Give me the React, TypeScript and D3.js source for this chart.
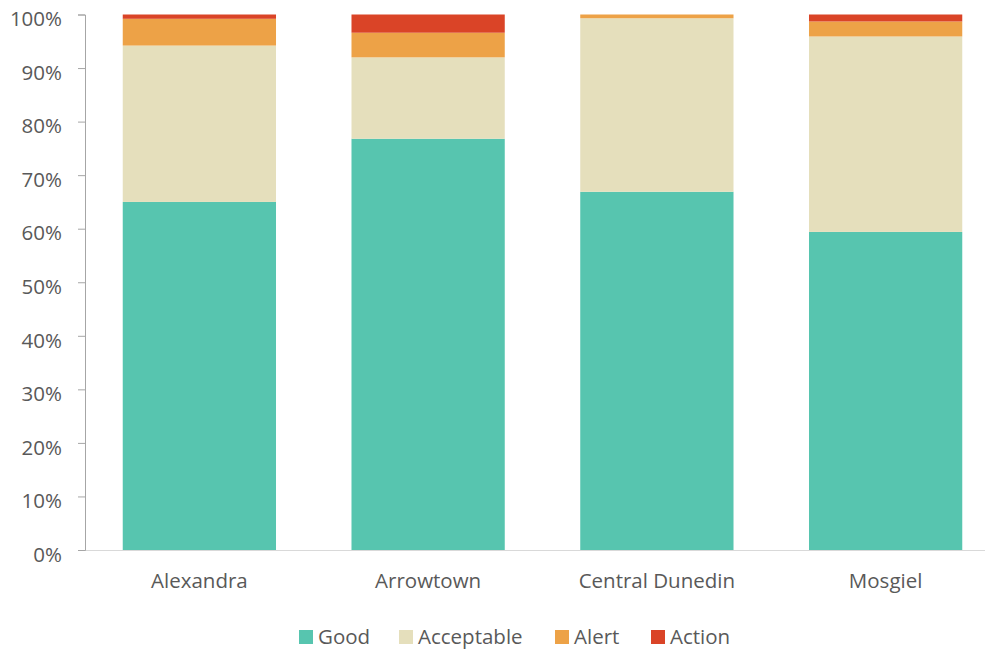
import React, { useEffect, useRef } from 'react';
import * as d3 from 'd3';

const sites = ['Alexandra', 'Arrowtown', 'Central Dunedin', 'Mosgiel'];
const good = [65.0, 76.8, 66.9, 59.4];
const acceptable = [29.2, 15.2, 32.4, 36.5];
const alert = [5.0, 4.6, 0.7, 2.8];
const action = [0.8, 3.4, 0, 1.3];
const seriesNames = ['Good', 'Acceptable', 'Alert', 'Action'];
const colors = ['#57c5af', '#e5dfbc', '#eda247', '#da4427'];
const yTicks = [0, 10, 20, 30, 40, 50, 60, 70, 80, 90, 100];

const W = 987, H = 649;
const font = '"Open Sans", "Liberation Sans", sans-serif';
const fs = '20.5px';

const App = () => {
  const ref = useRef<SVGGElement>(null);

  useEffect(() => {
    const g = d3.select(ref.current);
    g.selectAll('*').remove();

    const rows = sites.map((s, i) => ({
      site: s, Good: good[i], Acceptable: acceptable[i], Alert: alert[i], Action: action[i],
    }));
    const stack = d3.stack<any>().keys(seriesNames)(rows);

    const x = d3.scaleBand().domain(sites).range([85, 1000]).paddingInner(0.33).paddingOuter(0.165);
    const y = d3.scaleLinear().domain([0, 100]).range([550, 14.5]);

    // bars
    g.selectAll('g.series').data(stack).enter().append('g')
      .attr('fill', (d, i) => colors[i])
      .selectAll('rect').data(d => d).enter().append('rect')
      .attr('x', d => x(d.data.site)!)
      .attr('width', x.bandwidth())
      .attr('y', d => y(d[1]))
      .attr('height', d => y(d[0]) - y(d[1]));

    // baseline
    g.append('line').attr('x1', 85).attr('x2', 985).attr('y1', y(0) + 0.5).attr('y2', y(0) + 0.5)
      .attr('stroke', '#d9d9d9').attr('stroke-width', 1);

    // y axis
    const yAxis = g.append('g').attr('transform', 'translate(85,0)')
      .call(d3.axisLeft(y).tickValues(yTicks).tickSize(7).tickPadding(16).tickFormat(d => `${d}%`));
    yAxis.select('.domain').attr('stroke', '#a6a6a6');
    yAxis.selectAll('.tick line').attr('stroke', '#a6a6a6');
    yAxis.selectAll('text').attr('fill', '#595959').style('font-size', fs).style('font-family', font)
      .attr('dy', '0.55em');

    // x labels
    g.selectAll('text.xl').data(sites).enter().append('text')
      .attr('x', d => x(d)! + x.bandwidth() / 2).attr('y', 588)
      .attr('text-anchor', 'middle').attr('fill', '#595959')
      .style('font-size', fs).style('font-family', font).text(d => d);

    // legend
    const lx = [299, 399, 555, 651];
    const lg = g.selectAll('g.lg').data(seriesNames).enter().append('g')
      .attr('transform', (d, i) => `translate(${lx[i]},630)`);
    lg.append('rect').attr('width', 14).attr('height', 14).attr('fill', (d, i) => colors[i]);
    lg.append('text').attr('x', 19).attr('y', 14).attr('fill', '#595959')
      .style('font-size', fs).style('font-family', font).text(d => d);
  }, []);

  return (
    <svg width={W} height={H} style={{ position: 'absolute', left: 0, top: 0 }}>
      <rect width={W} height={H} fill="#fff" />
      <g ref={ref} />
    </svg>
  );
};

export default App;
